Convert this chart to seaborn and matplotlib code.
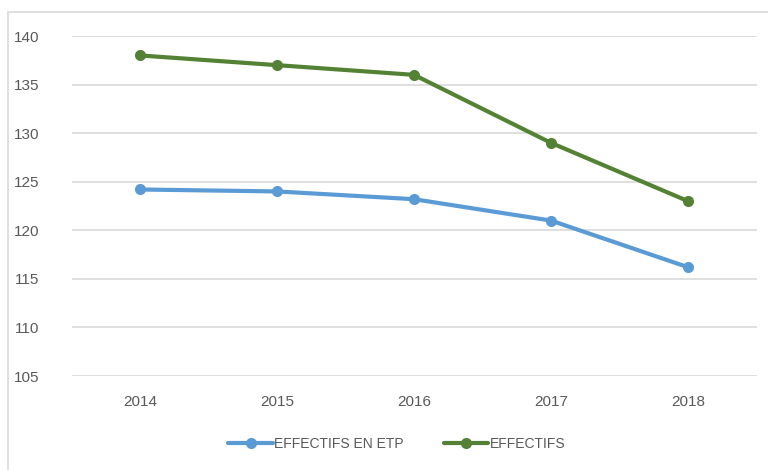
import matplotlib
matplotlib.use("Agg")
import matplotlib.pyplot as plt
from matplotlib.patches import Rectangle
import seaborn as sns
import pandas as pd

years = ["2014", "2015", "2016", "2017", "2018"]
effectifs_etp = [124.2, 124.0, 123.2, 121.0, 116.2]
effectifs = [138, 137, 136, 129, 123]
series_names = ["EFFECTIFS EN ETP", "EFFECTIFS"]
colors = ["#5B9BD5", "#548235"]
yticks = [105, 110, 115, 120, 125, 130, 135, 140]

df = pd.DataFrame({
    "year": years * 2,
    "value": effectifs_etp + effectifs,
    "series": [series_names[0]] * len(years) + [series_names[1]] * len(years),
})

sns.set_style("white")
plt.rcParams["font.family"] = ["Liberation Sans", "DejaVu Sans"]

fig = plt.figure(figsize=(7.68, 4.70), dpi=100)
ax = fig.add_axes([71.5 / 768, 1 - 376 / 470, (756.5 - 71.5) / 768, (376 - 36) / 470])

# outer chart frame
fig.patches.append(Rectangle((8 / 768, -0.01), 1.0, 1 - 12 / 470 + 0.01,
                             transform=fig.transFigure, fill=False,
                             edgecolor="#d9d9d9", linewidth=1.2))

sns.lineplot(data=df, x="year", y="value", hue="series", palette=colors,
             marker="o", markersize=8, markeredgewidth=0, linewidth=3,
             sort=False, ax=ax, legend=True)

ax.set_xlim(-0.5, len(years) - 0.5)
ax.set_ylim(105, 140)
ax.set_yticks(yticks)
ax.grid(axis="y", color="#d9d9d9", linewidth=1.2)
ax.set_axisbelow(True)
for s in ax.spines.values():
    s.set_visible(False)
ax.set_xlabel("")
ax.set_ylabel("")
ax.tick_params(axis="both", length=0, labelsize=11, labelcolor="#595959")
ax.tick_params(axis="x", pad=14)
ax.tick_params(axis="y", pad=23)

handles, labels = ax.get_legend_handles_labels()
ax.legend(handles, labels, loc="center", bbox_to_anchor=(0.475, -0.2),
          ncol=2, frameon=False, fontsize=10, labelcolor="#595959",
          handlelength=3.2, handletextpad=0.1, columnspacing=2.9)

fig.savefig("out.png", dpi=100)
